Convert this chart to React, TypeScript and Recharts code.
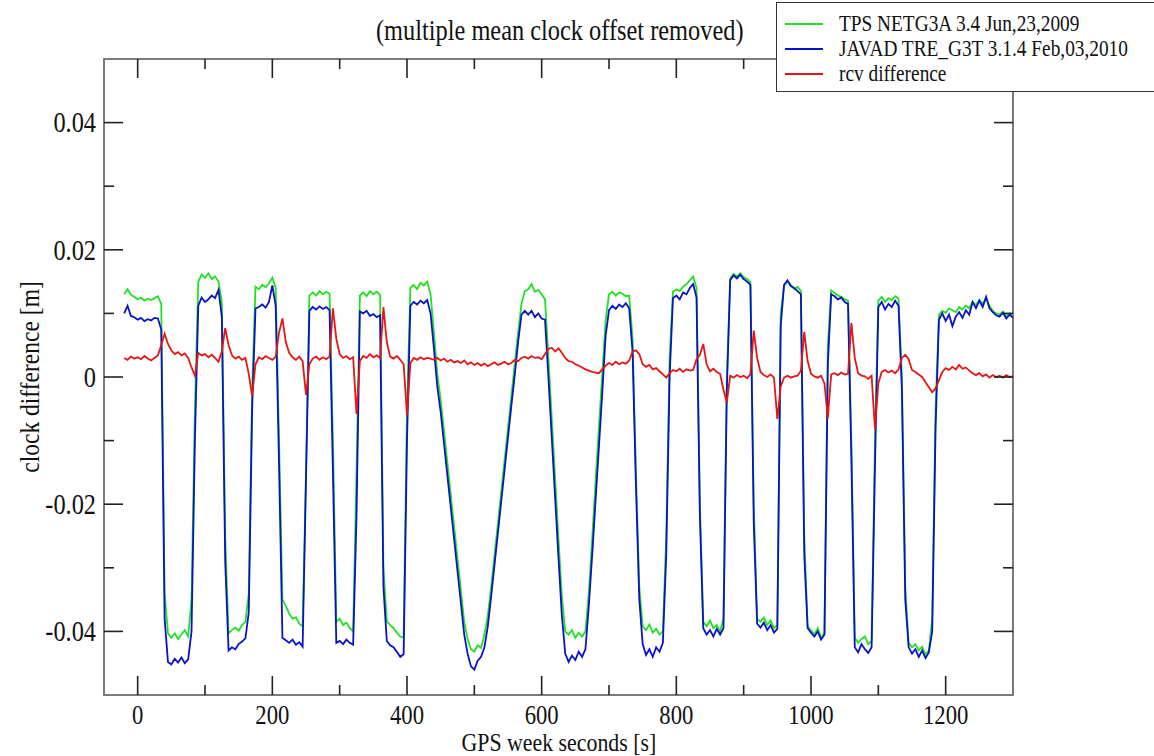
import React from "react";
import { LineChart, Line, XAxis, YAxis, ReferenceArea } from "recharts";

// Sampling of the time axis (GPS week seconds)
const SAMPLE_START = -20;
const SAMPLE_STEP = 5;

// TPS NETG3A receiver clock difference [m], one value per 5 s from -20 s
const tpsNetg3a = [
  0.0130, 0.0138, 0.0129, 0.0126, 0.0122, 0.0125, 0.0120, 0.0123, 0.0121, 0.0124, 0.0127, 0.0115, -0.0340, -0.0403, -0.0410, -0.0403, -0.0412, -0.0405, -0.0398, -0.0408,
  -0.0350, -0.0050, 0.0150, 0.0161, 0.0156, 0.0163, 0.0154, 0.0158, 0.0150, 0.0118, -0.0250, -0.0403, -0.0398, -0.0394, -0.0399, -0.0390, -0.0385, -0.0340, -0.0020, 0.0142,
  0.0138, 0.0145, 0.0141, 0.0147, 0.0156, 0.0140, -0.0100, -0.0350, -0.0360, -0.0372, -0.0380, -0.0378, -0.0388, -0.0392, -0.0150, 0.0128, 0.0133, 0.0128, 0.0135, 0.0130,
  0.0134, 0.0131, -0.0100, -0.0385, -0.0380, -0.0390, -0.0386, -0.0395, -0.0400, -0.0150, 0.0128, 0.0133, 0.0127, 0.0135, 0.0130, 0.0134, 0.0129, -0.0300, -0.0384, -0.0390,
  -0.0395, -0.0402, -0.0408, -0.0410, -0.0050, 0.0140, 0.0145, 0.0138, 0.0148, 0.0144, 0.0150, 0.0130, 0.0070, 0.0005, -0.0035, -0.0085, -0.0135, -0.0185, -0.0235, -0.0285,
  -0.0335, -0.0385, -0.0412, -0.0428, -0.0432, -0.0422, -0.0426, -0.0405, -0.0375, -0.0330, -0.0280, -0.0230, -0.0180, -0.0130, -0.0080, -0.0030, 0.0020, 0.0070, 0.0115, 0.0135,
  0.0138, 0.0146, 0.0134, 0.0137, 0.0130, 0.0122, 0.0030, -0.0065, -0.0160, -0.0255, -0.0345, -0.0400, -0.0405, -0.0398, -0.0410, -0.0402, -0.0408, -0.0400, -0.0340, -0.0255,
  -0.0165, -0.0080, 0.0005, 0.0090, 0.0130, 0.0134, 0.0128, 0.0133, 0.0131, 0.0127, 0.0128, 0.0060, -0.0150, -0.0330, -0.0392, -0.0398, -0.0389, -0.0402, -0.0396, -0.0405,
  -0.0400, -0.0250, 0.0030, 0.0134, 0.0138, 0.0135, 0.0142, 0.0146, 0.0152, 0.0158, 0.0140, -0.0200, -0.0385, -0.0392, -0.0383, -0.0395, -0.0390, -0.0400, -0.0380, 0.0000,
  0.0155, 0.0162, 0.0158, 0.0163, 0.0157, 0.0154, 0.0149, -0.0200, -0.0380, -0.0385, -0.0378, -0.0390, -0.0383, -0.0395, -0.0390, 0.0100, 0.0143, 0.0150, 0.0145, 0.0138,
  0.0142, 0.0135, -0.0250, -0.0392, -0.0398, -0.0405, -0.0395, -0.0410, -0.0402, 0.0050, 0.0136, 0.0132, 0.0128, 0.0126, 0.0122, 0.0120, -0.0100, -0.0410, -0.0418, -0.0412,
  -0.0408, -0.0420, -0.0415, -0.0100, 0.0120, 0.0126, 0.0118, 0.0124, 0.0121, 0.0127, 0.0123, 0.0000, -0.0330, -0.0418, -0.0425, -0.0420, -0.0430, -0.0424, -0.0436, -0.0430,
  -0.0380, -0.0050, 0.0098, 0.0104, 0.0101, 0.0108, 0.0105, 0.0102, 0.0110, 0.0106, 0.0112, 0.0108, 0.0118, 0.0113, 0.0121, 0.0115, 0.0124, 0.0112, 0.0104, 0.0100,
  0.0098, 0.0103, 0.0096, 0.0100, 0.0094,
];

// JAVAD TRE_G3T receiver clock difference [m]
const javadTreG3t = [
  0.0100, 0.0112, 0.0096, 0.0094, 0.0090, 0.0093, 0.0088, 0.0091, 0.0089, 0.0093, 0.0092, 0.0075, -0.0380, -0.0448, -0.0452, -0.0443, -0.0449, -0.0441, -0.0450, -0.0444,
  -0.0400, -0.0100, 0.0112, 0.0125, 0.0118, 0.0122, 0.0128, 0.0124, 0.0137, 0.0095, -0.0290, -0.0430, -0.0425, -0.0428, -0.0420, -0.0416, -0.0411, -0.0370, -0.0050, 0.0108,
  0.0110, 0.0114, 0.0109, 0.0118, 0.0144, 0.0112, -0.0140, -0.0410, -0.0414, -0.0418, -0.0413, -0.0421, -0.0417, -0.0424, -0.0160, 0.0104, 0.0110, 0.0106, 0.0111, 0.0107,
  0.0110, 0.0105, -0.0150, -0.0418, -0.0415, -0.0420, -0.0413, -0.0418, -0.0421, -0.0220, 0.0103, 0.0100, 0.0104, 0.0096, 0.0099, 0.0094, 0.0097, -0.0330, -0.0415, -0.0422,
  -0.0425, -0.0432, -0.0440, -0.0436, -0.0100, 0.0112, 0.0118, 0.0114, 0.0120, 0.0116, 0.0121, 0.0100, 0.0045, -0.0015, -0.0055, -0.0105, -0.0155, -0.0205, -0.0255, -0.0305,
  -0.0355, -0.0405, -0.0435, -0.0455, -0.0460, -0.0446, -0.0440, -0.0425, -0.0392, -0.0345, -0.0295, -0.0245, -0.0195, -0.0145, -0.0095, -0.0045, 0.0003, 0.0055, 0.0098, 0.0104,
  0.0098, 0.0104, 0.0094, 0.0100, 0.0092, 0.0090, 0.0000, -0.0095, -0.0190, -0.0285, -0.0375, -0.0435, -0.0448, -0.0438, -0.0445, -0.0432, -0.0440, -0.0428, -0.0360, -0.0280,
  -0.0195, -0.0110, -0.0025, 0.0065, 0.0105, 0.0112, 0.0107, 0.0114, 0.0110, 0.0116, 0.0108, 0.0040, -0.0170, -0.0350, -0.0420, -0.0437, -0.0428, -0.0440, -0.0425, -0.0432,
  -0.0418, -0.0280, 0.0000, 0.0124, 0.0128, 0.0122, 0.0133, 0.0130, 0.0140, 0.0146, 0.0125, -0.0220, -0.0395, -0.0405, -0.0398, -0.0408, -0.0396, -0.0405, -0.0395, -0.0020,
  0.0152, 0.0160, 0.0155, 0.0161, 0.0154, 0.0150, 0.0145, -0.0230, -0.0388, -0.0394, -0.0386, -0.0398, -0.0390, -0.0402, -0.0396, 0.0080, 0.0145, 0.0152, 0.0143, 0.0140,
  0.0135, 0.0130, -0.0280, -0.0395, -0.0402, -0.0408, -0.0400, -0.0413, -0.0405, 0.0020, 0.0130, 0.0127, 0.0122, 0.0125, 0.0118, 0.0115, -0.0130, -0.0425, -0.0433, -0.0420,
  -0.0428, -0.0434, -0.0425, -0.0140, 0.0110, 0.0118, 0.0106, 0.0115, 0.0110, 0.0120, 0.0112, -0.0020, -0.0350, -0.0425, -0.0435, -0.0428, -0.0440, -0.0430, -0.0442, -0.0433,
  -0.0400, -0.0080, 0.0090, 0.0100, 0.0088, 0.0098, 0.0080, 0.0095, 0.0102, 0.0093, 0.0105, 0.0098, 0.0118, 0.0108, 0.0120, 0.0110, 0.0126, 0.0108, 0.0102, 0.0097,
  0.0095, 0.0101, 0.0092, 0.0098, 0.0093,
];

// receiver difference [m]
const rcvDifference = [
  0.0030, 0.0027, 0.0032, 0.0029, 0.0031, 0.0028, 0.0033, 0.0029, 0.0026, 0.0030, 0.0034, 0.0050, 0.0068, 0.0052, 0.0042, 0.0036, 0.0039, 0.0034, 0.0037, 0.0030,
  0.0015, 0.0002, 0.0038, 0.0034, 0.0036, 0.0031, 0.0035, 0.0030, 0.0024, 0.0040, 0.0077, 0.0050, 0.0034, 0.0029, 0.0032, 0.0027, 0.0030, 0.0005, -0.0030, 0.0020,
  0.0031, 0.0028, 0.0033, 0.0030, 0.0027, 0.0032, 0.0070, 0.0092, 0.0055, 0.0038, 0.0031, 0.0027, 0.0032, 0.0025, -0.0028, 0.0020, 0.0029, 0.0032, 0.0027, 0.0031,
  0.0028, 0.0032, 0.0108, 0.0060, 0.0036, 0.0030, 0.0033, 0.0028, 0.0031, -0.0058, 0.0025, 0.0033, 0.0030, 0.0036, 0.0031, 0.0034, 0.0030, 0.0110, 0.0055, 0.0032,
  0.0029, 0.0033, 0.0027, 0.0020, -0.0060, 0.0022, 0.0030, 0.0027, 0.0031, 0.0028, 0.0030, 0.0029, 0.0027, 0.0030, 0.0026, 0.0029, 0.0024, 0.0027, 0.0023, 0.0025,
  0.0022, 0.0026, 0.0020, 0.0023, 0.0019, 0.0022, 0.0018, 0.0021, 0.0017, 0.0020, 0.0023, 0.0019, 0.0021, 0.0024, 0.0020, 0.0022, 0.0027, 0.0025, 0.0030, 0.0032,
  0.0029, 0.0033, 0.0030, 0.0031, 0.0028, 0.0036, 0.0044, 0.0046, 0.0040, 0.0045, 0.0038, 0.0030, 0.0025, 0.0024, 0.0020, 0.0018, 0.0015, 0.0012, 0.0010, 0.0008,
  0.0007, 0.0006, 0.0012, 0.0018, 0.0022, 0.0019, 0.0024, 0.0020, 0.0023, 0.0021, 0.0026, 0.0040, 0.0042, 0.0036, 0.0020, 0.0016, 0.0019, 0.0012, 0.0014, 0.0009,
  0.0004, -0.0001, 0.0006, 0.0011, 0.0009, 0.0013, 0.0008, 0.0012, 0.0010, 0.0011, 0.0028, 0.0035, 0.0052, 0.0020, 0.0009, 0.0013, 0.0008, 0.0005, -0.0020, -0.0040,
  0.0002, -0.0001, 0.0003, 0.0000, 0.0002, -0.0002, 0.0004, 0.0073, 0.0030, 0.0008, 0.0003, 0.0000, 0.0004, -0.0001, -0.0066, -0.0015, -0.0001, 0.0002, -0.0001, 0.0001,
  0.0002, 0.0010, 0.0071, 0.0025, 0.0005, 0.0001, -0.0001, 0.0002, -0.0010, -0.0065, 0.0004, 0.0006, 0.0003, 0.0007, 0.0004, 0.0005, 0.0085, 0.0030, 0.0006, 0.0002,
  0.0001, -0.0003, 0.0002, -0.0082, -0.0010, 0.0008, 0.0011, 0.0007, 0.0010, 0.0006, 0.0012, 0.0030, 0.0035, 0.0028, 0.0011, 0.0008, 0.0004, 0.0000, -0.0008, -0.0016,
  -0.0024, -0.0018, -0.0005, 0.0008, 0.0014, 0.0011, 0.0016, 0.0012, 0.0019, 0.0013, 0.0015, 0.0010, 0.0006, 0.0003, 0.0006, 0.0001, 0.0004, -0.0001, 0.0003, 0.0000,
  0.0002, -0.0001, 0.0003, 0.0000, 0.0001,
];

const xTicks = [0, 100, 200, 300, 400, 500, 600, 700, 800, 900, 1000, 1100, 1200];
const yTicks = [-0.04, -0.03, -0.02, -0.01, 0, 0.01, 0.02, 0.03, 0.04];
const X_DOMAIN: [number, number] = [-50, 1300];
const Y_DOMAIN: [number, number] = [-0.05, 0.05];

const SUBTITLE = "(multiple mean clock offset removed)";
const X_TITLE = "GPS week seconds [s]";
const Y_TITLE = "clock difference [m]";

const series = [
  { key: "tps", name: "TPS NETG3A 3.4 Jun,23,2009", color: "#22e022", values: tpsNetg3a },
  { key: "javad", name: "JAVAD TRE_G3T 3.1.4 Feb,03,2010", color: "#0a12c8", values: javadTreG3t },
  { key: "rcv", name: "rcv difference", color: "#e41616", values: rcvDifference },
];

const data = tpsNetg3a.map((_, i) => ({
  x: SAMPLE_START + i * SAMPLE_STEP,
  tps: tpsNetg3a[i],
  javad: javadTreG3t[i],
  rcv: rcvDifference[i],
}));

// layout
const W = 1154;
const H = 756;
const PLOT = { left: 104, right: 1013, top: 59, bottom: 695 };
const Y_AXIS_W = 80;
const X_AXIS_H = 40;
const FONT = '"Liberation Serif", "DejaVu Serif", serif';
const TICK_COLOR = "#222";
const SQUEEZE = 0.84; // the reference type is tall and narrow

function YTick(props: any) {
  const { y, payload } = props;
  const v = payload.value as number;
  const major = Math.round(v * 100) % 2 === 0;
  const len = major ? 19 : 10;
  return (
    <g>
      <line x1={PLOT.left} x2={PLOT.left + len} y1={y} y2={y} stroke={TICK_COLOR} strokeWidth={1.6} />
      <line x1={PLOT.right - len} x2={PLOT.right} y1={y} y2={y} stroke={TICK_COLOR} strokeWidth={1.6} />
      {major && (
        <text
          transform={`translate(${PLOT.left - 8},${y}) scale(${SQUEEZE},1)`}
          x={0}
          y={0}
          textAnchor="end"
          dominantBaseline="central"
          fontFamily={FONT}
          fontSize={29}
          fill="#111"
        >
          {v === 0 ? "0" : v.toFixed(2)}
        </text>
      )}
    </g>
  );
}

function XTick(props: any) {
  const { x, payload } = props;
  const v = payload.value as number;
  const major = v % 200 === 0;
  const len = major ? 19 : 10;
  return (
    <g>
      <line x1={x} x2={x} y1={PLOT.bottom} y2={PLOT.bottom - len} stroke={TICK_COLOR} strokeWidth={1.6} />
      <line x1={x} x2={x} y1={PLOT.top} y2={PLOT.top + len} stroke={TICK_COLOR} strokeWidth={1.6} />
      {major && (
        <text
          transform={`translate(${x},${PLOT.bottom + 20}) scale(${SQUEEZE},1)`}
          x={0}
          y={0}
          textAnchor="middle"
          dominantBaseline="central"
          fontFamily={FONT}
          fontSize={27}
          fill="#111"
        >
          {String(v)}
        </text>
      )}
    </g>
  );
}

const squeezed = (origin: string): React.CSSProperties => ({
  display: "inline-block",
  transform: `scaleX(${SQUEEZE})`,
  transformOrigin: origin,
  whiteSpace: "nowrap",
});

export default function App() {
  return (
    <div style={{ position: "relative", width: W, height: H, overflow: "hidden", background: "#fff" }}>
      <style>{"body{margin:0;}"}</style>
      <LineChart
        width={W}
        height={H}
        data={data}
        margin={{ top: PLOT.top, right: W - PLOT.right, bottom: H - PLOT.bottom - X_AXIS_H, left: PLOT.left - Y_AXIS_W }}
      >
        <XAxis
          dataKey="x"
          type="number"
          domain={X_DOMAIN}
          ticks={xTicks}
          interval={0}
          allowDataOverflow
          height={X_AXIS_H}
          axisLine={false}
          tickLine={false}
          tick={(p: any) => <XTick {...p} />}
        />
        <YAxis
          type="number"
          domain={Y_DOMAIN}
          ticks={yTicks}
          interval={0}
          allowDataOverflow
          width={Y_AXIS_W}
          axisLine={false}
          tickLine={false}
          tick={(p: any) => <YTick {...p} />}
        />
        <ReferenceArea
          x1={X_DOMAIN[0]}
          x2={X_DOMAIN[1]}
          y1={Y_DOMAIN[0]}
          y2={Y_DOMAIN[1]}
          fill="none"
          fillOpacity={0}
          stroke="#7a7a7a"
          strokeWidth={2}
        />
        {series.map((s) => (
          <Line
            key={s.key}
            dataKey={s.key}
            name={s.name}
            type="linear"
            stroke={s.color}
            strokeWidth={1.8}
            dot={false}
            activeDot={false}
            isAnimationActive={false}
          />
        ))}
      </LineChart>

      <div
        style={{
          position: "absolute",
          left: 0,
          width: 1120,
          top: 12,
          textAlign: "center",
          fontFamily: FONT,
          fontSize: 29,
          color: "#111",
          lineHeight: "36px",
        }}
      >
        <span style={squeezed("center")}>{SUBTITLE}</span>
      </div>

      <div
        style={{
          position: "absolute",
          left: PLOT.left,
          width: PLOT.right - PLOT.left,
          top: 731,
          textAlign: "center",
          fontFamily: FONT,
          fontSize: 26,
          color: "#111",
          lineHeight: "24px",
        }}
      >
        <span style={squeezed("center")}>{X_TITLE}</span>
      </div>

      <div
        style={{
          position: "absolute",
          left: 30,
          top: (PLOT.top + PLOT.bottom) / 2,
          transform: "translate(-50%, -50%) rotate(-90deg)",
          fontFamily: FONT,
          fontSize: 28,
          color: "#111",
          whiteSpace: "nowrap",
          lineHeight: "32px",
        }}
      >
        <span style={squeezed("center")}>{Y_TITLE}</span>
      </div>

      <div
        style={{
          position: "absolute",
          left: 776,
          top: 2,
          width: 420,
          height: 90,
          border: "1.5px solid #333",
          background: "#fff",
          boxSizing: "border-box",
        }}
      >
        {series.map((s, i) => (
          <div
            key={s.key}
            style={{ position: "absolute", left: 8, top: 8 + i * 25, height: 26, display: "flex", alignItems: "center" }}
          >
            <div style={{ width: 38, height: 0, borderTop: `2px solid ${s.color}` }} />
            <span style={{ marginLeft: 16, fontFamily: FONT, fontSize: 23, color: "#111", ...squeezed("left center") }}>
              {s.name}
            </span>
          </div>
        ))}
      </div>
    </div>
  );
}
